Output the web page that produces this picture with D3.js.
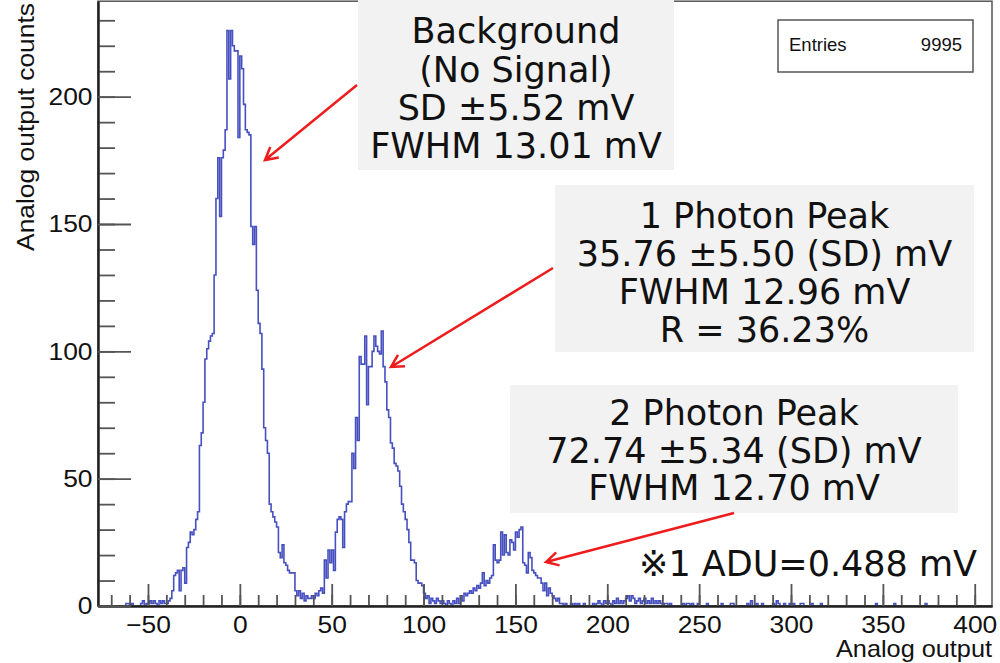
<!DOCTYPE html>
<html>
<head>
<meta charset="utf-8">
<title>Analog output histogram</title>
<script src="https://cdn.jsdelivr.net/npm/d3@7"></script>
<style>
  body { margin: 0; background: #fff; }
  svg { display: block; }
</style>
</head>
<body>
<script>
// 1 ADU bins, first value belongs to bin -64
const firstBin = -64;
const counts = [
  0,0,1,1,0,1,0,0,0,0,          // -64
  1,2,0,1,1,2,1,2,1,0,          // -54
  2,1,2,1,1,2,3,6,12,13,        // -44
  14,6,14,15,9,23,25,29,28,30,  // -34
  34,37,63,68,80,97,101,104,106,107,      // -24
  130,160,176,153,176,179,187,226,207,226, // -14
  220,218,218,184,216,211,197,187,186,185, // -4
  149,142,149,124,111,107,93,70,65,60,     // 6
  40,37,35,33,31,21,19,24,17,16, // 16
  14,13,13,13,6,4,6,3,5,2,       // 26
  4,3,3,4,3,5,4,6,7,5,           // 36
  18,11,22,17,22,14,29,34,35,34, // 46
  23,37,40,41,41,60,54,74,65,98, // 56
  95,95,106,79,94,94,100,106,102,100, // 66
  99,108,94,88,77,74,64,62,56,55,     // 76
  53,47,40,37,34,30,25,18,18,17, // 86
  10,9,9,8,5,3,4,1,3,2,          // 96
  1,3,2,1,2,1,0,2,1,0,           // 106
  2,1,3,1,4,2,5,4,5,6,           // 116
  5,7,6,8,7,9,13,8,10,9,         // 126
  11,12,24,18,17,18,29,20,28,21, // 136
  20,26,25,22,29,27,30,31,17,16, // 146
  13,21,19,14,13,12,11,11,9,6,   // 156
  9,4,7,5,4,3,2,3,1,1,           // 166
  0,1,0,0,1,0,1,0,1,0,           // 176
  0,1,0,0,0,0,1,0,1,2,           // 186
  1,0,2,1,2,1,0,2,1,3,           // 196
  1,2,1,2,3,4,2,4,3,1,           // 206
  2,3,1,2,3,1,2,1,3,1,           // 216
  2,1,2,1,0,1,1,0,1,0,           // 226
  0,0,0,0,0,1,0,1,1,0,           // 236
  1,0,0,1,0                      // 246
];
// single counts far out in the tail
const tailBins   = [254,262,267,268,276,278,281,284,290,292,293,296,299,301,305,306,311,316,346,356,373];
const tailCounts = [1,1,1,1,1,2,1,1,1,2,1,1,1,1,1,1,1,1,1,1,1];

const xMajor = [-50,0,50,100,150,200,250,300,350,400];
const yMajor = [0,50,100,150,200];
const entries = 9995;

const noteBackground = ["Background", "(No Signal)", "SD \u00b15.52 mV", "FWHM 13.01 mV"];
const notePhoton1 = ["1 Photon Peak", "35.76 \u00b15.50 (SD) mV", "FWHM 12.96 mV", "R = 36.23%"];
const notePhoton2 = ["2 Photon Peak", "72.74 \u00b15.34 (SD) mV", "FWHM 12.70 mV"];
const footnote = "\u203b1 ADU=0.488 mV";

const W = 1000, H = 663;
const x = d3.scaleLinear().domain([-77.2, 409.4]).range([98, 992]);
const y = d3.scaleLinear().domain([0, 237.5]).range([606, 1.2]);

const svg = d3.select("body").append("svg")
    .attr("width", W)
    .attr("height", H)
    .style("font-family", "'Liberation Sans', Arial, sans-serif");

// full table of bins over the axis range
const lookup = new Map();
counts.forEach((c, i) => lookup.set(firstBin + i, c));
tailBins.forEach((b, i) => lookup.set(b, tailCounts[i]));
const bins = d3.range(-78, 411).map(b => ({b: b, c: lookup.get(b) || 0}));

svg.append("clipPath").attr("id", "plot")
    .append("rect")
    .attr("x", x.range()[0]).attr("y", 0)
    .attr("width", x.range()[1] - x.range()[0]).attr("height", y(0));

const line = d3.line()
    .x(d => x(d.b))
    .y(d => y(d.c))
    .curve(d3.curveStepAfter);

svg.append("path")
    .datum(bins)
    .attr("clip-path", "url(#plot)")
    .attr("d", line)
    .attr("fill", "none")
    .attr("stroke", "#4650bf")
    .attr("stroke-width", 1.6);

// frame
svg.append("rect")
    .attr("x", x.range()[0]).attr("y", y.range()[1])
    .attr("width", x.range()[1] - x.range()[0])
    .attr("height", y.range()[0] - y.range()[1])
    .attr("fill", "none")
    .attr("stroke", "#555")
    .attr("stroke-width", 1.5);

// axes: minor ticks first, then majors with labels
const xMinor = svg.append("g")
    .attr("transform", "translate(0," + y(0) + ")")
    .call(d3.axisBottom(x).tickValues(d3.range(-70, 401, 10)).tickSize(-11).tickSizeOuter(0).tickFormat(""));
const xAxis = svg.append("g")
    .attr("transform", "translate(0," + y(0) + ")")
    .call(d3.axisBottom(x).tickValues(xMajor).tickSize(-22).tickSizeOuter(0).tickPadding(10));
const yMinor = svg.append("g")
    .attr("transform", "translate(" + x.range()[0] + ",0)")
    .call(d3.axisLeft(y).tickValues(d3.range(0, 231, 10)).tickSize(-17).tickSizeOuter(0).tickFormat(""));
const yAxis = svg.append("g")
    .attr("transform", "translate(" + x.range()[0] + ",0)")
    .call(d3.axisLeft(y).tickValues(yMajor).tickSize(-33).tickSizeOuter(0).tickPadding(5));

svg.selectAll(".domain").attr("stroke", "#222").attr("stroke-width", 2);
svg.selectAll(".tick line").attr("stroke", "#555").attr("stroke-width", 1.8);
svg.selectAll(".tick text")
    .attr("font-size", 24)
    .attr("font-family", "'Liberation Sans', Arial, sans-serif")
    .attr("fill", "#111")
    .attr("transform", "scale(1.1,1)");

svg.append("text")
    .text("Analog output counts")
    .attr("transform", "translate(34,3) rotate(-90) scale(1.1,1)")
    .attr("text-anchor", "end")
    .attr("font-size", 24)
    .attr("fill", "#111");
svg.append("text")
    .text("Analog output")
    .attr("transform", "translate(992,657) scale(1.1,1)")
    .attr("text-anchor", "end")
    .attr("font-size", 23)
    .attr("fill", "#111");

// stats box
const stats = svg.append("g");
stats.append("rect")
    .attr("x", 778).attr("y", 20).attr("width", 195).attr("height", 52)
    .attr("fill", "#fff").attr("stroke", "#555").attr("stroke-width", 1.5);
stats.append("text").text("Entries")
    .attr("x", 789).attr("y", 51).attr("font-size", 18.5).attr("fill", "#111");
stats.append("text").text(entries)
    .attr("x", 962).attr("y", 51).attr("text-anchor", "end").attr("font-size", 18.5).attr("fill", "#111");

// annotation boxes
function note(lines, bx, by, bw, bh, baselines) {
    const g = svg.append("g");
    g.append("rect")
        .attr("x", bx).attr("y", by).attr("width", bw).attr("height", bh)
        .attr("fill", "#f2f2f2");
    g.selectAll("text").data(lines).enter().append("text")
        .text(d => d)
        .attr("x", bx + bw / 2)
        .attr("y", (d, i) => baselines[i])
        .attr("text-anchor", "middle")
        .attr("font-family", "'DejaVu Sans', 'Noto Sans CJK JP', sans-serif")
        .attr("font-size", 35)
        .attr("fill", "#111");
}
note(noteBackground, 358, 0, 316, 170, [43, 82, 120, 158]);
note(notePhoton1, 555, 185, 419, 167, [228, 266, 304, 342]);
note(notePhoton2, 510, 385, 448, 128, [425, 462.5, 500]);

svg.append("text")
    .text(footnote)
    .attr("x", 977).attr("y", 576)
    .attr("text-anchor", "end")
    .attr("font-family", "'DejaVu Sans', 'Noto Sans CJK JP', sans-serif")
    .attr("font-size", 35)
    .attr("fill", "#111");

// red arrows from the boxes to the peaks
function arrow(x0, y0, x1, y1) {
    const a = Math.atan2(y1 - y0, x1 - x0);
    const len = 14, spread = 0.5;
    const p1 = [x1 - len * Math.cos(a - spread), y1 - len * Math.sin(a - spread)];
    const p2 = [x1 - len * Math.cos(a + spread), y1 - len * Math.sin(a + spread)];
    svg.append("path")
        .attr("d", "M" + x0 + "," + y0 + "L" + x1 + "," + y1 +
                   "M" + p1 + "L" + x1 + "," + y1 + "L" + p2)
        .attr("fill", "none")
        .attr("stroke", "#ee1c1c")
        .attr("stroke-width", 2.5)
        .attr("stroke-linejoin", "miter");
}
arrow(357, 85, 265, 160);
arrow(553, 268, 391, 367);
arrow(734, 513, 546, 562);
</script>
</body>
</html>
